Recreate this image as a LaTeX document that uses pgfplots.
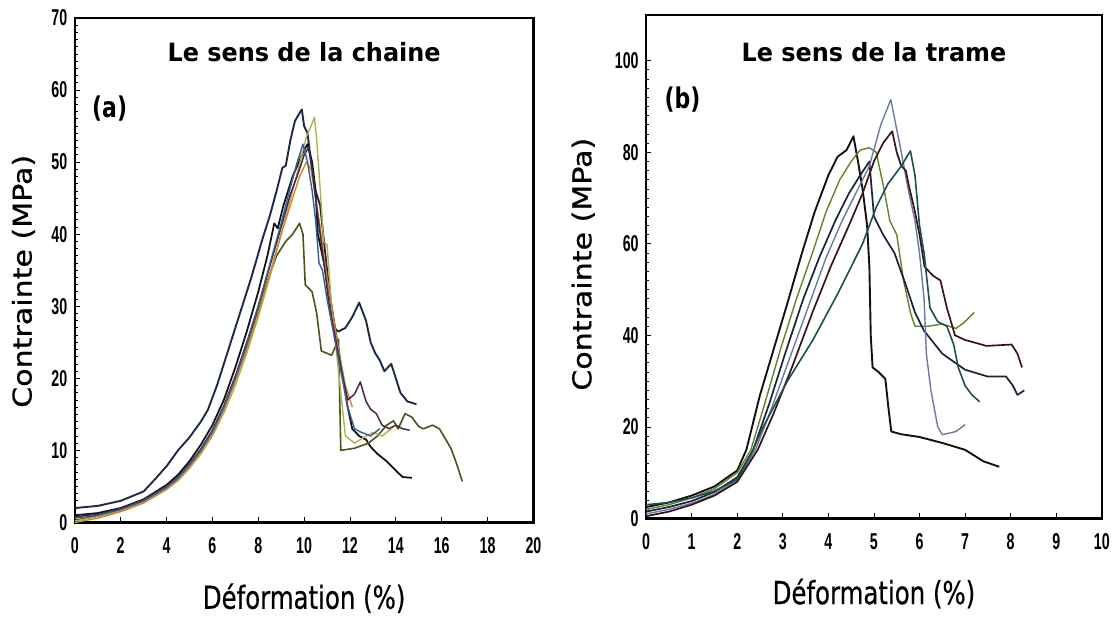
\documentclass[border=0pt]{standalone}
\usepackage{fontspec}
\setmainfont{DejaVu Sans}
\newfontfamily\tickfont{Liberation Sans}[FakeStretch=0.62]
\newfontfamily\labfont{DejaVu Sans}[FakeBold=0.6]
\usepackage{pgfplots}
\pgfplotsset{compat=1.18}

\newcommand{\xlab}{\scalebox{1}[1.3]{Déformation (\%)}}
\newcommand{\ylab}{\scalebox{1.16}[1]{Contrainte (MPa)}}

\pgfplotsset{
  tens/.style={
    scale only axis, clip=true,
    axis line style={line width=2.2pt, black},
    tick style={black, line width=0.8pt},
    major tick length=5pt, minor tick length=3pt,
    xtick pos=bottom, ytick pos=left, tick align=inside,
    /pgf/number format/assume math mode=true,
    ticklabel style={font=\tickfont\bfseries\fontsize{23}{23}\selectfont},
    xticklabel style={yshift=-12pt},
    yticklabel style={xshift=-4pt},
    xlabel style={font=\labfont\fontsize{24.5}{26}\selectfont},
    ylabel style={font=\labfont\fontsize{26}{28}\selectfont},
    every axis plot/.append style={no marks, line join=round},
  },
}
\tikzset{
  ttl/.style={font=\bfseries\fontsize{24}{26}\selectfont},
  tag/.style={font=\bfseries\fontsize{22}{24}\selectfont},
}

\begin{document}
\begin{tikzpicture}
\path (0pt,0pt) rectangle (1113pt,614pt);

% stress-strain curves, warp direction (a)
\begin{axis}[tens,
  at={(75pt,90pt)}, anchor=south west, width=460pt, height=506pt,
  xmin=0, xmax=20, ymin=0, ymax=70,
  xtick={0,2,...,20}, ytick={0,10,...,70}, minor y tick num=9,
  xlabel={\xlab}, ylabel={\ylab},
  xlabel style={at={(axis description cs:0.5,-0.150)}, anchor=center},
  ylabel style={at={(axis description cs:-0.112,0.478)}, anchor=center},
]
% navy
\addplot[color={rgb,255:red,28;green,42;blue,74}, line width=1.9pt] coordinates {
(0,2)(1,2.3)(2,3)(3,4.3)(3.5,6)(4,7.8)(4.5,10)(5,11.8)(5.5,14)(5.8,15.6)(6.2,19)(6.5,22)(7,27)(7.7,34)(8.2,39.5)(8.5,42.5)(8.8,46)(9.05,49.2)(9.2,49.5)(9.4,53)(9.6,55.7)(9.8,56.8)(9.9,57.3)(10.0,55)(10.15,54)(10.3,50)(10.5,46)(10.7,44)(10.9,38)(11.1,32)(11.3,27)(11.5,26.5)(11.8,27)(12.1,28.5)(12.4,30.5)(12.7,28)(12.9,25)(13.1,23.5)(13.3,22.5)(13.5,21)(13.8,22)(14.0,20)(14.2,18)(14.5,16.8)(14.9,16.4)};
% black
\addplot[color={rgb,255:red,20;green,20;blue,20}, line width=1.8pt] coordinates {
(0,1)(1,1.3)(2,2)(3,3.2)(4,5.2)(4.5,6.6)(5,8.5)(5.5,10.8)(6,13.5)(6.5,17)(7,21.5)(7.5,26.5)(8,32)(8.4,37)(8.7,41.5)(8.85,40.8)(9.1,44)(9.5,48)(9.9,51)(10.15,52.5)(10.35,50)(10.5,46)(10.6,40)(10.8,37)(11.0,34)(11.3,28)(11.6,22)(11.9,16)(12.1,13)(12.4,12)(12.7,11.5)(12.9,10.5)(13.2,9.5)(13.6,8.5)(14.0,7.2)(14.3,6.3)(14.7,6.2)};
% dark olive
\addplot[color={rgb,255:red,72;green,86;blue,22}, line width=1.6pt] coordinates {
(0,0.3)(1,0.9)(2,1.7)(3,2.9)(4,4.7)(4.5,6)(5,7.8)(5.5,9.9)(6,12.5)(6.5,15.8)(7,19.8)(7.5,24.5)(8,29.5)(8.4,33.5)(8.8,37)(9.2,39)(9.5,40)(9.8,41.5)(9.95,40)(10.05,33)(10.35,32)(10.55,29)(10.75,23.8)(11.2,23.2)(11.5,25.4)(11.6,10)(12.2,10.3)(12.8,11)(13.2,12)(13.6,13.5)(13.9,14.1)(14.1,13)(14.4,15.1)(14.7,14.6)(15.0,13.3)(15.2,13)(15.6,13.5)(15.9,13)(16.2,11.4)(16.4,10.3)(16.6,8.6)(16.9,5.7)};
% light yellow-green
\addplot[color={rgb,255:red,176;green,178;blue,70}, line width=1.4pt] coordinates {
(0,0.2)(1,0.8)(2,1.6)(3,2.8)(4,4.6)(4.5,5.8)(5,7.5)(5.5,9.5)(6,12)(6.5,15.2)(7,19)(7.5,23.5)(8,28.5)(8.5,34)(9,40)(9.5,46)(9.9,51)(10.1,53.5)(10.3,55)(10.45,56.2)(10.55,53)(10.65,48.6)(10.75,44)(10.85,39)(11.0,38.5)(11.2,30)(11.4,24)(11.6,18)(11.8,12)(12.2,11)(12.6,11.8)(13.0,12.5)(13.4,12)(13.8,13)};
% orange
\addplot[color={rgb,255:red,217;green,130;blue,43}, line width=1.4pt] coordinates {
(0,0)(1,0.6)(2,1.5)(3,2.7)(4,4.6)(4.5,5.9)(5,7.7)(5.5,9.8)(6,12.3)(6.5,15.6)(7,19.6)(7.5,24)(8,29)(8.5,34.5)(9,40)(9.4,44)(9.8,48)(10.1,50)(10.3,49)(10.5,45)(10.7,41)(10.9,36)(11.2,30)(11.5,24)(11.8,19)(12.1,16)};
% dark purple
\addplot[color={rgb,255:red,75;green,35;blue,70}, line width=1.5pt] coordinates {
(0,0.8)(1,1.1)(2,1.9)(3,3.1)(4,5)(4.5,6.3)(5,8.1)(5.5,10.2)(6,12.8)(6.5,16.2)(7,20.3)(7.5,25)(8,30)(8.5,35.5)(9,41)(9.4,45.5)(9.8,49)(10.0,51)(10.2,52)(10.35,49)(10.5,45)(10.7,40)(10.9,35)(11.1,30)(11.4,25)(11.7,20)(11.9,17)(12.2,17.8)(12.45,19.5)(12.7,16.8)(12.9,15.7)(13.15,15.1)(13.4,13.5)(13.7,13)(14.0,13.5)(14.3,13)(14.6,12.8)};
% blue
\addplot[color={rgb,255:red,47;green,95;blue,159}, line width=1.4pt] coordinates {
(0,0.6)(1,1)(2,1.8)(3,3)(4,4.9)(4.5,6.2)(5,8)(5.5,10)(6,12.6)(6.5,16)(7,20)(7.5,24.8)(8,30)(8.5,35.8)(9,41.5)(9.4,46.5)(9.7,50)(9.95,52.5)(10.15,50)(10.35,46)(10.5,42)(10.6,38)(10.65,36)(10.8,35)(11.0,31)(11.3,26)(11.6,21)(11.9,16)(12.2,13)(12.5,12.5)(12.9,12)(13.3,13)};
\node[ttl] at (rel axis cs:0.5,0.933) {\scalebox{1}[1.05]{Le sens de la chaine}};
\node[tag] at (rel axis cs:0.076,0.82) {\scalebox{1}[1.3]{(a)}};
\end{axis}

% weft direction (b)
\begin{axis}[tens,
  at={(648pt,94pt)}, anchor=south west, width=457pt, height=505pt,
  xmin=0, xmax=10, ymin=0, ymax=110,
  xtick={0,1,...,10}, ytick={0,20,...,100}, minor y tick num=9,
  xlabel={\xlab}, ylabel={\ylab},
  xlabel style={at={(axis description cs:0.5,-0.149)}, anchor=center},
  ylabel style={at={(axis description cs:-0.138,0.505)}, anchor=center},
]
% black
\addplot[color={rgb,255:red,18;green,18;blue,18}, line width=1.9pt] coordinates {
(0,2.5)(0.5,3.5)(1,5)(1.5,7)(2,10.5)(2.2,15)(2.5,27)(2.8,37)(3.1,47)(3.42,58)(3.7,67)(4.0,75)(4.2,79)(4.4,80.5)(4.55,83.5)(4.65,78)(4.75,72)(4.85,64)(4.9,55)(4.93,40)(4.97,33)(5.1,32)(5.25,30.5)(5.32,24)(5.38,19)(5.6,18.4)(6.0,17.8)(6.5,16.5)(7.0,15)(7.4,12.5)(7.75,11.3)};
% olive green
\addplot[color={rgb,255:red,100;green,130;blue,40}, line width=1.4pt] coordinates {
(0,2)(0.5,3)(1,4.5)(1.5,6.5)(2,10)(2.3,15)(2.6,25)(2.95,37)(3.3,48)(3.65,58)(3.95,67)(4.25,74)(4.5,78)(4.7,80.5)(4.9,81)(5.05,80)(5.2,73)(5.35,65)(5.5,62)(5.65,52)(5.8,45)(5.9,42)(6.2,42)(6.5,42.5)(6.8,41.5)(7.0,43)(7.2,45)};
% navy
\addplot[color={rgb,255:red,26;green,34;blue,60}, line width=1.7pt] coordinates {
(0,1.5)(0.5,2.5)(1,3.8)(1.5,5.8)(2,9)(2.35,15)(2.7,25)(3.05,36)(3.45,48)(3.8,57)(4.15,65)(4.45,71)(4.7,75)(4.9,78)(4.95,72)(5.0,66)(5.2,62)(5.45,58)(5.7,51)(5.9,45)(6.1,41)(6.5,36)(7.0,32.5)(7.5,31)(7.9,31)(8.05,29)(8.15,27)(8.3,28)};
% slate lavender
\addplot[color={rgb,255:red,106;green,122;blue,168}, line width=1.4pt] coordinates {
(0,1)(0.5,2)(1,3.3)(1.5,5.3)(2,8.5)(2.4,15)(2.75,24)(3.15,35)(3.55,46)(3.95,57)(4.3,65)(4.6,71)(4.9,77)(5.15,86)(5.37,91.5)(5.5,85)(5.6,80)(5.75,72)(5.9,65)(6.0,58)(6.1,48)(6.15,36)(6.25,28)(6.4,20)(6.5,18.3)(6.8,19)(7.0,20.5)};
% maroon
\addplot[color={rgb,255:red,60;green,18;blue,18}, line width=1.7pt] coordinates {
(0,0.5)(0.5,1.5)(1,3)(1.5,5)(2,8)(2.45,15)(2.8,23)(3.2,33)(3.65,45)(4.05,55)(4.45,64)(4.75,71)(5.0,78)(5.2,82)(5.4,84.6)(5.5,80)(5.6,77)(5.7,76)(5.76,73)(5.9,67)(6.0,62)(6.11,55)(6.3,53)(6.46,52)(6.6,46)(6.78,40)(7.0,39)(7.47,37.7)(8.02,38)(8.15,36)(8.25,33)};
% teal
\addplot[color={rgb,255:red,29;green,79;blue,79}, line width=1.6pt] coordinates {
(0,3)(0.5,3.5)(1,4.5)(1.5,6)(2,8.5)(2.3,14)(2.57,20)(3.1,30)(3.66,39)(4.2,49)(4.75,60)(5.05,68)(5.3,73)(5.6,77)(5.8,80.3)(5.9,75)(6.0,64)(6.1,58)(6.23,46)(6.4,43)(6.6,42)(6.75,38)(6.85,33)(7.0,29)(7.15,27)(7.32,25.5)};
\node[ttl] at (rel axis cs:0.5,0.927) {\scalebox{1}[1.05]{Le sens de la trame}};
\node[tag] at (rel axis cs:0.08,0.832) {\scalebox{1}[1.3]{(b)}};
\end{axis}
\end{tikzpicture}
\end{document}
